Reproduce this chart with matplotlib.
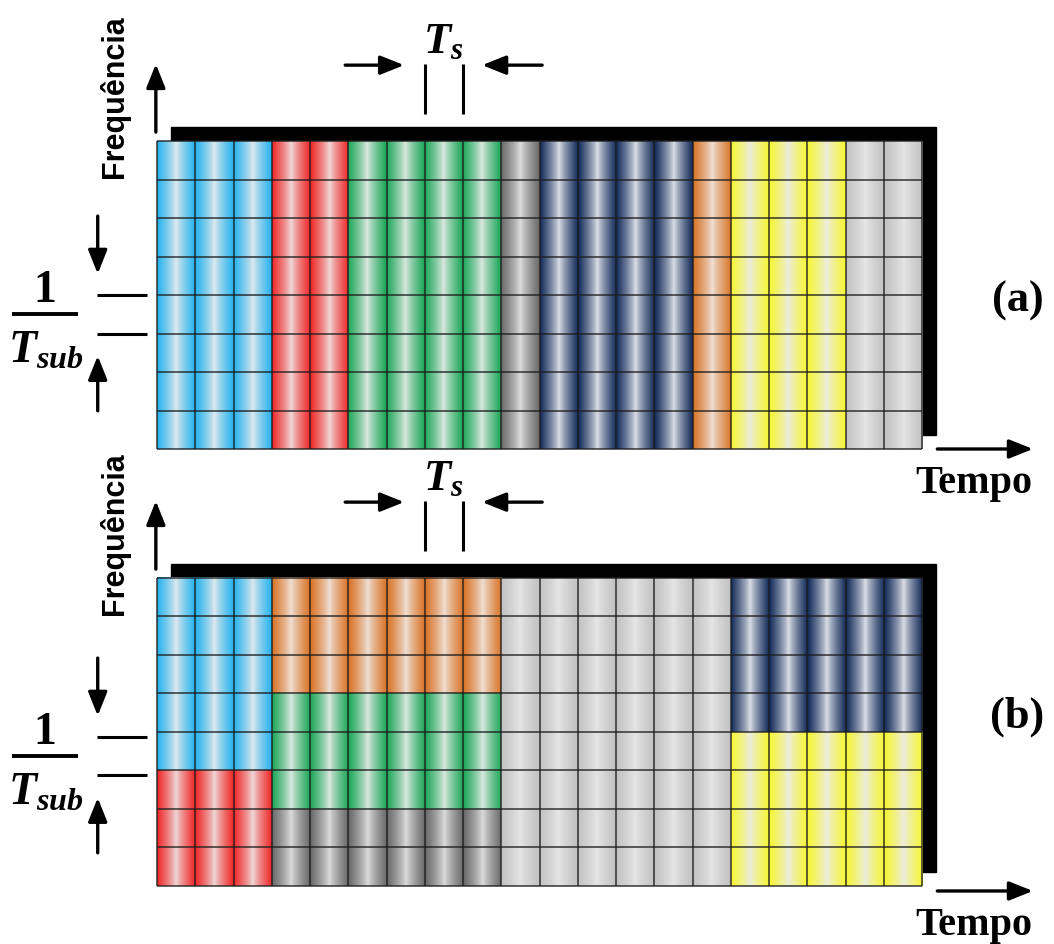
import numpy as np
import matplotlib
matplotlib.use("Agg")
import matplotlib.pyplot as plt
from matplotlib.colors import to_rgb
from matplotlib.patches import Rectangle

plt.rcParams.update({
    "mathtext.fontset": "custom",
    "mathtext.rm": "Liberation Serif:bold",
    "mathtext.it": "Liberation Serif:italic:bold",
    "mathtext.bf": "Liberation Serif:bold",
})

# ------------------------------------------------------------------
# Data: time x frequency resource grid (20 symbols x 8 subcarriers)
# ------------------------------------------------------------------
N_COLS = 20
N_ROWS = 8

# colour family -> (edge colour, centre highlight)
PALETTE = {
    "blue":   ("#27b4ee", "#e3e9ed"),
    "red":    ("#f02828", "#eedcdc"),
    "green":  ("#1ea85a", "#dfe9e3"),
    "gray":   ("#6a6a6a", "#dedede"),
    "navy":   ("#152d5c", "#dfe2e8"),
    "orange": ("#d97428", "#efe2d8"),
    "yellow": ("#f6f636", "#ecece2"),
    "light":  ("#c2c2c2", "#e6e6e6"),
}

# panel (a): one user per run of columns, all subcarriers
A_COLORS = ["blue", "red", "green", "gray", "navy", "orange", "yellow", "light"]
A_WIDTHS = [3, 2, 4, 1, 4, 1, 3, 2]

# panel (b): users share blocks of columns and subcarriers
B_COLORS = ["blue", "red", "orange", "green", "gray", "light", "navy", "yellow"]
B_COL0 = [0, 0, 3, 3, 3, 9, 15, 15]
B_ROW0 = [0, 5, 0, 3, 6, 0, 0, 4]
B_NCOL = [3, 3, 6, 6, 6, 6, 5, 5]
B_NROW = [5, 3, 3, 3, 2, 8, 4, 4]

# ------------------------------------------------------------------
# Helpers
# ------------------------------------------------------------------
def cell_strip(name, n=48):
    edge, centre = PALETTE[name]
    t = np.linspace(0, 1, n)
    w = np.abs(2 * t - 1) ** 0.8
    e, c = np.array(to_rgb(edge)), np.array(to_rgb(centre))
    return c[None, :] * (1 - w[:, None]) + e[None, :] * w[:, None]


def draw_block(ax, name, c0, r0, nc, nr):
    img = np.tile(cell_strip(name)[None, :, :], (nr, nc, 1))
    ax.imshow(img, extent=(c0, c0 + nc, r0 + nr, r0), aspect="auto",
              interpolation="bilinear", zorder=2)


def arrow(ax, x0, y0, x1, y1):
    ax.annotate("", xy=(x1, y1), xytext=(x0, y0),
                arrowprops=dict(arrowstyle="-|>,head_length=0.8,head_width=0.32",
                                lw=2.4, color="black", mutation_scale=18,
                                shrinkA=0, shrinkB=0), zorder=5)


def decorate(ax, y0, label, frac_dy, label_y, tempo_dy):
    # shadow behind the grid
    ax.add_patch(Rectangle((0.37, y0 - 0.36), N_COLS, N_ROWS, color="black", zorder=1))
    # cell grid
    ax.vlines(np.arange(N_COLS + 1), y0, y0 + N_ROWS, color="#1c1c1c", lw=1.15, alpha=0.85, zorder=3)
    ax.hlines(y0 + np.arange(N_ROWS + 1), 0, N_COLS, color="#1c1c1c", lw=1.15, alpha=0.85, zorder=3)

    # symbol period T_s
    ax.vlines([7, 8], y0 - 2.0, y0 - 0.7, color="black", lw=2.2)
    arrow(ax, 4.92, y0 - 1.97, 6.46, y0 - 1.97)
    arrow(ax, 10.07, y0 - 1.97, 8.50, y0 - 1.97)
    ax.text(7.48, y0 - 2.31, r"$T_s$", fontsize=32, ha="center", va="baseline")

    # frequency axis
    arrow(ax, -0.03, y0 - 0.23, -0.03, y0 - 2.0)
    ax.text(-1.10, y0 - 1.17, "Frequência", rotation=90, ha="center", va="center",
            fontsize=22, fontweight="bold", family="Liberation Sans")

    # subcarrier spacing 1/T_sub
    f = y0 + frac_dy
    ax.hlines([f + 4.0, f + 5.0], -1.57, -0.26, color="black", lw=2.2)
    arrow(ax, -1.55, f + 1.95, -1.55, f + 3.45)
    arrow(ax, -1.55, f + 7.01, -1.55, f + 5.58)
    ax.text(-2.95, f + 3.82, r"$\mathbf{1}$", fontsize=33, ha="center", va="center")
    ax.hlines(f + 4.49, -3.79, -2.06, color="black", lw=2.8)
    ax.text(-2.90, f + 5.74, r"$T_{sub}$", fontsize=33, ha="center", va="baseline")

    # panel label
    ax.text(22.5, y0 + label_y, label, fontsize=32, ha="center", va="center",
            fontweight="bold", family="Liberation Serif")

    # time axis
    arrow(ax, 20.4, y0 + 8.0 + tempo_dy, 22.9, y0 + 8.0 + tempo_dy)
    ax.text(21.35, y0 + 8.88 + tempo_dy, "Tempo", fontsize=29, ha="center", va="center",
            fontweight="bold", family="Liberation Serif")


# ------------------------------------------------------------------
# Figure
# ------------------------------------------------------------------
fig = plt.figure(figsize=(10.54, 9.45), dpi=100)
ax = fig.add_axes([0, 0, 1, 1])
ax.set_axis_off()

Y_A = 0.0
Y_B = 11.35

# panel (a)
c = 0
for name, w in zip(A_COLORS, A_WIDTHS):
    draw_block(ax, name, c, Y_A, w, N_ROWS)
    c += w
decorate(ax, Y_A, "(a)", 0.0, 4.13, 0.0)

# panel (b)
for name, c0, r0, nc, nr in zip(B_COLORS, B_COL0, B_ROW0, B_NCOL, B_NROW):
    draw_block(ax, name, c0, Y_B + r0, nc, nr)
decorate(ax, Y_B, "(b)", 0.13, 3.58, 0.13)

ax.set_xlim(-157 / 38.25, (1054 - 157) / 38.25)
ax.set_ylim((945 - 142) / 38.5, -142 / 38.5)

fig.savefig("out.png", dpi=100, facecolor="white")
